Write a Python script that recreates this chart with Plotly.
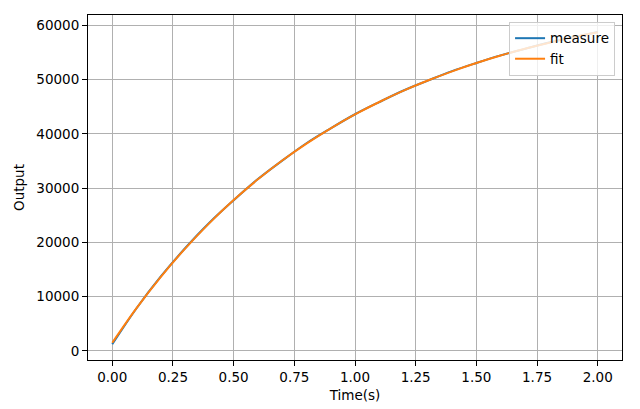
import plotly.graph_objects as go

# Data
time_s = [0.0, 0.1, 0.2, 0.3, 0.4, 0.5, 0.6, 0.7, 0.8, 0.9, 1.0,
          1.1, 1.2, 1.3, 1.4, 1.5, 1.6, 1.7, 1.8, 1.9, 2.0]
measure = [1200, 7850, 13700, 18900, 23600, 27750, 31650, 35050, 38250, 41000, 43600,
           45850, 47980, 49800, 51550, 53050, 54450, 55650, 56820, 57800, 58750]
fit = [1500, 7880, 13640, 18840, 23540, 27780, 31610, 35070, 38190, 41010, 43560,
       45860, 47940, 49810, 51510, 53040, 54420, 55670, 56790, 57810, 58730]

x_tick_vals = [0.0, 0.25, 0.5, 0.75, 1.0, 1.25, 1.5, 1.75, 2.0]
x_tick_text = ["0.00", "0.25", "0.50", "0.75", "1.00", "1.25", "1.50", "1.75", "2.00"]
y_tick_vals = [0, 10000, 20000, 30000, 40000, 50000, 60000]
y_tick_text = ["0", "10000", "20000", "30000", "40000", "50000", "60000"]

FONT = "DejaVu Sans"

fig = go.Figure()
fig.add_trace(go.Scatter(x=time_s, y=measure, mode="lines", name="measure",
                         line=dict(color="#1f77b4", width=2, shape="spline", smoothing=1.0)))
fig.add_trace(go.Scatter(x=time_s, y=fit, mode="lines", name="fit",
                         line=dict(color="#ff7f0e", width=2, shape="spline", smoothing=1.0)))

axis_common = dict(
    showline=True, linecolor="black", linewidth=1, mirror=True,
    ticks="outside", ticklen=5, tickwidth=1, tickcolor="black",
    showgrid=True, gridcolor="#b0b0b0", gridwidth=1,
    zeroline=False,
    tickfont=dict(family=FONT, size=13.5, color="black"),
)

fig.update_layout(
    width=640, height=409,
    margin=dict(l=80, r=26, t=7, b=57),
    paper_bgcolor="white", plot_bgcolor="white",
    font=dict(family=FONT, size=13.5, color="black"),
    showlegend=True,
    legend=dict(
        x=0.987, y=0.98, xanchor="right", yanchor="top",
        bgcolor="rgba(255,255,255,0.8)", bordercolor="#cccccc", borderwidth=1,
        font=dict(family=FONT, size=13.5, color="black"),
        tracegroupgap=0,
    ),
    xaxis=dict(
        range=[-0.1, 2.1], tickvals=x_tick_vals, ticktext=x_tick_text,
        title=dict(text="Time(s)", font=dict(family=FONT, size=13.5), standoff=6),
        **axis_common,
    ),
    yaxis=dict(
        range=[-1690, 61890], tickvals=y_tick_vals, ticktext=y_tick_text,
        title=dict(text="Output", font=dict(family=FONT, size=13.5), standoff=8),
        **axis_common,
    ),
)

fig.write_html("out.html")
